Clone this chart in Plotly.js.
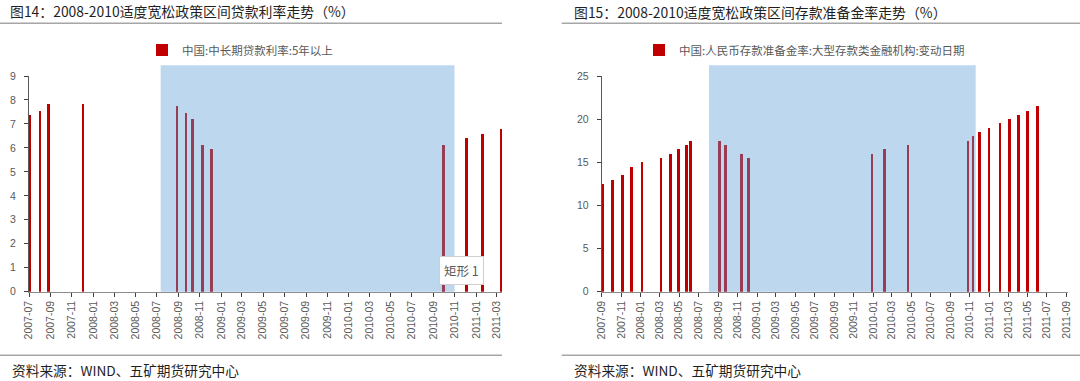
<!DOCTYPE html>
<html>
<head>
<meta charset="utf-8">
<script src="https://cdn.plot.ly/plotly-3.0.1.min.js"></script>
<style>html,body{margin:0;padding:0;background:#fff;}#chart{width:1080px;height:381px;}</style>
</head>
<body>
<div id="chart"></div>
<script>
// ---- data ----
const loanDates = ['2007-07-04','2007-08-02','2007-08-26','2007-12-02','2008-08-28','2008-09-22','2008-10-11','2008-11-09','2008-12-04','2010-09-30','2010-12-05','2011-01-20','2011-03-15'];
const loanRates = [7.38,7.56,7.83,7.83,7.74,7.47,7.20,6.12,5.94,6.14,6.40,6.60,6.80];
const rrrDates = ['2007-09-04','2007-10-04','2007-11-06','2007-12-03','2008-01-05','2008-03-05','2008-04-04','2008-04-30','2008-05-24','2008-06-06','2008-09-06','2008-09-24','2008-11-13','2008-12-05','2009-12-28','2010-02-05','2010-04-20','2010-10-26','2010-11-10','2010-12-01','2010-12-31','2011-02-04','2011-03-06','2011-04-02','2011-04-30','2011-06-01'];
const rrrRates = [12.5,13,13.5,14.5,15,15.5,16,16.5,17,17.5,17.5,17,16,15.5,16,16.5,17,17.5,18,18.5,19,19.5,20,20.5,21,21.5];
const loanShade = ['2008-07-12','2010-10-31'];
const rrrShade = ['2008-08-03','2010-11-19'];
const loanName = '中国:中长期贷款利率:5年以上';
const rrrName = '中国:人民币存款准备金率:大型存款类金融机构:变动日期';
const title1 = '图14：2008-2010适度宽松政策区间贷款利率走势（%）';
const title2 = '图15：2008-2010适度宽松政策区间存款准备金率走势（%）';
const sourceText = '资料来源：WIND、五矿期货研究中心';

// ---- layout helpers ----
const W = 1080, H = 381;
const px = v => v / W;
const py = v => 1 - v / H;
const DAY = 86400000;
const RED = '#C00000';
const CJK = '"Noto Sans CJK SC", "Noto Sans", sans-serif';
const NUM = '"Liberation Sans", Arial, sans-serif';

const traces = [
  {type:'bar', x: loanDates, y: loanRates, name: loanName, xaxis:'x', yaxis:'y',
   marker:{color:RED, line:{width:0}}, width: loanDates.map(()=>7.4*DAY), legend:'legend'},
  {type:'bar', x: rrrDates, y: rrrRates, name: rrrName, xaxis:'x2', yaxis:'y2',
   marker:{color:RED, line:{width:0}}, width: rrrDates.map(()=>8.2*DAY), legend:'legend2'}
];

const xBase = {type:'date', tickformat:'%Y-%m', dtick:'M2', tickangle:-90, ticks:'outside', ticklen:4,
  tickcolor:'#404040', showline:true, linecolor:'#8c8c8c', linewidth:1, showgrid:false, zeroline:false,
  tickfont:{family:NUM, size:10.5, color:'#595959'}, fixedrange:true};
const yBase = {ticks:'outside', ticklen:4, tickcolor:'#404040', showline:true, linecolor:'#595959', linewidth:1,
  showgrid:false, zeroline:false, tickfont:{family:NUM, size:10.5, color:'#595959'}, ticklabelstandoff:6,
  domain:[py(291.7), py(76)], fixedrange:true};

const layout = {
  width: W, height: H, margin:{l:0,r:0,t:0,b:0}, paper_bgcolor:'#fff', plot_bgcolor:'rgba(0,0,0,0)',
  bargap:0, showlegend:true,
  title:{text:title1, x:px(10), xref:'paper', xanchor:'left', y:py(12.3), yref:'paper', yanchor:'middle',
    font:{family:CJK, size:13.9, color:'#1f1f1f'}},
  xaxis: Object.assign({}, xBase, {domain:[px(29), px(502)], range:['2007-07-01','2011-03-16'], tick0:'2007-07-01', anchor:'y'}),
  yaxis: Object.assign({}, yBase, {range:[0,9], dtick:1, anchor:'x'}),
  xaxis2: Object.assign({}, xBase, {domain:[px(601.7), px(1068.3)], range:['2007-09-01','2011-09-06'], tick0:'2007-09-01', anchor:'y2'}),
  yaxis2: Object.assign({}, yBase, {range:[0,25], dtick:5, anchor:'x2'}),
  legend:{x:px(142), xanchor:'left', y:py(50), yanchor:'middle', orientation:'h', bgcolor:'rgba(0,0,0,0)',
    font:{family:CJK, size:11.5, color:'#595959'}, itemwidth:30},
  legend2:{x:px(639), xanchor:'left', y:py(50), yanchor:'middle', orientation:'h', bgcolor:'rgba(0,0,0,0)',
    font:{family:CJK, size:11.5, color:'#595959'}, itemwidth:30},
  shapes:[
    {type:'rect', xref:'x', yref:'paper', x0:loanShade[0], x1:loanShade[1], y0:py(291.7), y1:py(65.3),
      fillcolor:'#5B9BD5', opacity:0.4, line:{width:0}, layer:'above'},
    {type:'rect', xref:'x2', yref:'paper', x0:rrrShade[0], x1:rrrShade[1], y0:py(291.7), y1:py(65.3),
      fillcolor:'#5B9BD5', opacity:0.4, line:{width:0}, layer:'above'},
    {type:'line', xref:'paper', yref:'paper', x0:0, x1:px(502), y0:py(23.3), y1:py(23.3), line:{color:'#a6a6a6', width:1.5}},
    {type:'line', xref:'paper', yref:'paper', x0:px(561.7), x1:1, y0:py(23.3), y1:py(23.3), line:{color:'#a6a6a6', width:1.5}},
    {type:'line', xref:'paper', yref:'paper', x0:0, x1:px(502), y0:py(355.3), y1:py(355.3), line:{color:'#a6a6a6', width:1.5}},
    {type:'line', xref:'paper', yref:'paper', x0:px(561.7), x1:1, y0:py(355.3), y1:py(355.3), line:{color:'#a6a6a6', width:1.5}}
  ],
  annotations:[
    {text:title2, xref:'paper', yref:'paper', x:px(571.7), y:py(12.3), xanchor:'left', yanchor:'middle', showarrow:false,
      font:{family:CJK, size:13.9, color:'#1f1f1f'}},
    {text:sourceText, xref:'paper', yref:'paper', x:px(10), y:py(370), xanchor:'left', yanchor:'middle', showarrow:false,
      font:{family:CJK, size:13.7, color:'#1f1f1f'}},
    {text:sourceText, xref:'paper', yref:'paper', x:px(571.7), y:py(370), xanchor:'left', yanchor:'middle', showarrow:false,
      font:{family:CJK, size:13.7, color:'#1f1f1f'}},
    {text:'矩形 1', xref:'paper', yref:'paper', x:px(461), y:py(270.5), xanchor:'center', yanchor:'middle', showarrow:false,
      font:{family:CJK, size:12.5, color:'#595959'}, bgcolor:'#ffffff', bordercolor:'#cfcfcf', borderwidth:1, borderpad:4}
  ]
};

Plotly.newPlot('chart', traces, layout, {staticPlot:true, displayModeBar:false});
</script>
</body>
</html>
